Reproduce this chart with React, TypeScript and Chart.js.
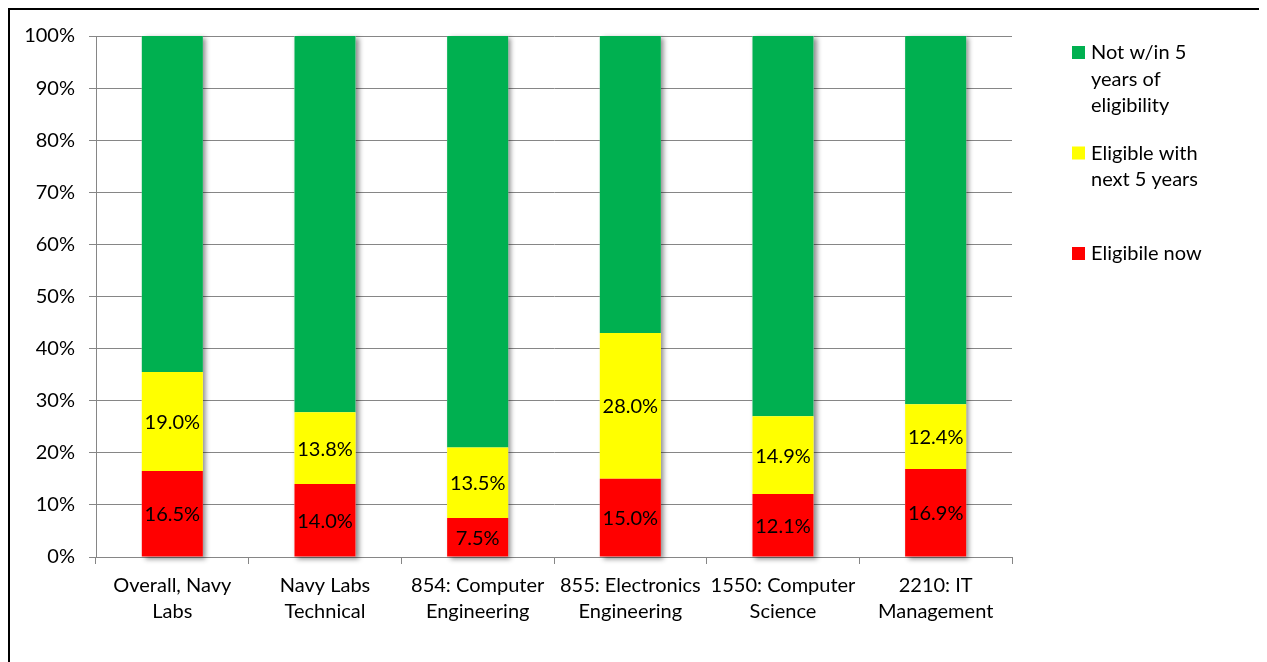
import React, { useEffect, useRef } from 'react';
import { Chart, registerables } from 'chart.js';

Chart.register(...registerables);

const categories: string[][] = [
  ['Overall, Navy', 'Labs'],
  ['Navy Labs', 'Technical'],
  ['854: Computer', 'Engineering'],
  ['855: Electronics', 'Engineering'],
  ['1550: Computer', 'Science'],
  ['2210: IT', 'Management'],
];
const eligibleNow = [16.5, 14.0, 7.5, 15.0, 12.1, 16.9];
const eligibleNext5 = [19.0, 13.8, 13.5, 28.0, 14.9, 12.4];
const notWithin5 = [64.5, 72.2, 79.0, 57.0, 73.0, 70.7];
const seriesNames = ['Eligibile now', 'Eligible with next 5 years', 'Not w/in 5 years of eligibility'];
const seriesColors = ['#FF0000', '#FFFF00', '#00B050'];
const legendLines: string[][] = [
  ['Not w/in 5', 'years of', 'eligibility'],
  ['Eligible with', 'next 5 years'],
  ['Eligibile now'],
];
const labeledSeries = [0, 1];

const FONT = 'Lato, "Liberation Sans", sans-serif';
const FONT_SIZE = 20;

const shadowPlugin = {
  id: 'barShadow',
  beforeDatasetsDraw(chart: any) {
    const ctx = chart.ctx;
    const m0 = chart.getDatasetMeta(0);
    const mTop = chart.getDatasetMeta(chart.data.datasets.length - 1);
    ctx.save();
    ctx.shadowColor = 'rgba(0,0,0,0.45)';
    ctx.shadowBlur = 5;
    ctx.shadowOffsetX = 3;
    ctx.shadowOffsetY = 2;
    ctx.fillStyle = '#ffffff';
    m0.data.forEach((b: any, i: number) => {
      const t = mTop.data[i];
      ctx.fillRect(b.x - b.width / 2, t.y, b.width, b.base - t.y);
    });
    ctx.restore();
  },
};

const labelPlugin = {
  id: 'segLabels',
  afterDatasetsDraw(chart: any) {
    const ctx = chart.ctx;
    ctx.save();
    ctx.font = `${FONT_SIZE}px ${FONT}`;
    ctx.fillStyle = '#000';
    ctx.textAlign = 'center';
    ctx.textBaseline = 'middle';
    labeledSeries.forEach((di) => {
      const meta = chart.getDatasetMeta(di);
      const vals = chart.data.datasets[di].data;
      meta.data.forEach((b: any, i: number) => {
        const cy = (b.y + b.base) / 2;
        ctx.fillText(Number(vals[i]).toFixed(1) + '%', b.x, cy + 1);
      });
    });
    ctx.restore();
  },
};

const legendPlugin = {
  id: 'sideLegend',
  afterDraw(chart: any) {
    const ctx = chart.ctx;
    const area = chart.chartArea;
    const markerX = area.right + 60;
    const textX = area.right + 79;
    const lineH = 26.3;
    ctx.save();
    ctx.font = `${FONT_SIZE}px ${FONT}`;
    ctx.textAlign = 'left';
    ctx.textBaseline = 'middle';
    legendLines.forEach((lines, k) => {
      const di = chart.data.datasets.length - 1 - k;
      const top = area.top + 10 + k * 100.5;
      ctx.fillStyle = chart.data.datasets[di].backgroundColor;
      ctx.fillRect(markerX, top, 13, 13);
      ctx.fillStyle = '#000';
      lines.forEach((ln, j) => {
        ctx.fillText(ln, textX, top + 7 + j * lineH);
      });
    });
    ctx.restore();
  },
};

export default function App() {
  const ref = useRef<HTMLCanvasElement | null>(null);
  useEffect(() => {
    document.documentElement.style.overflow = 'hidden';
    document.body.style.overflow = 'hidden';
    if (!ref.current) return;
    const series = [eligibleNow, eligibleNext5, notWithin5];
    const chart = new Chart(ref.current, {
      type: 'bar',
      data: {
        labels: categories,
        datasets: series.map((d, i) => ({
          label: seriesNames[i],
          data: d,
          backgroundColor: seriesColors[i],
          borderWidth: 0,
          barPercentage: 0.4,
          categoryPercentage: 1,
        })),
      },
      options: {
        animation: false,
        responsive: false,
        devicePixelRatio: 1,
        layout: { padding: { left: 0, top: 24, right: 250, bottom: 0 } },
        plugins: {
          legend: { display: false },
          tooltip: { enabled: false },
        },
        scales: {
          x: {
            stacked: true,
            grid: {
              offset: true,
              drawOnChartArea: false,
              drawTicks: true,
              tickLength: 7,
              color: '#868686',
            },
            border: { color: '#868686', width: 1 },
            ticks: {
              color: '#000',
              padding: 9,
              maxRotation: 0,
              autoSkip: false,
              font: { family: FONT, size: FONT_SIZE, lineHeight: 1.3 },
            },
            afterFit(scale: any) {
              scale.height = 113;
            },
          },
          y: {
            stacked: true,
            min: 0,
            max: 100,
            grid: {
              color: '#868686',
              drawTicks: true,
              tickLength: 7,
            },
            border: { color: '#868686', width: 1 },
            ticks: {
              stepSize: 10,
              color: '#000',
              padding: 14,
              font: { family: FONT, size: FONT_SIZE },
              callback: (v: any) => v + '%',
            },
            afterFit(scale: any) {
              scale.width = 86;
            },
          },
        },
      },
      plugins: [shadowPlugin, labelPlugin, legendPlugin],
    });
    return () => chart.destroy();
  }, []);

  return (
    <div
      style={{
        width: 1252,
        height: 660,
        border: '2px solid #000',
        background: '#fff',
        position: 'relative',
      }}
    >
      <canvas ref={ref} width={1252} height={660} style={{ display: 'block' }} />
    </div>
  );
}
